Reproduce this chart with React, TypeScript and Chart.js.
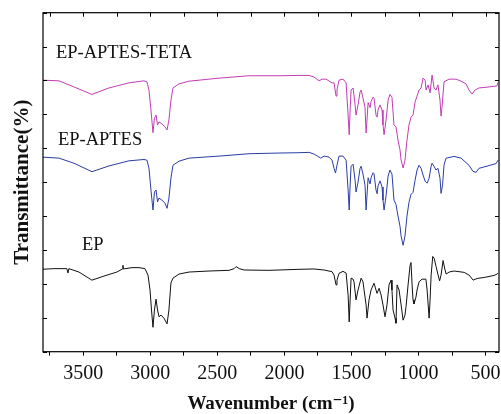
import React, { useEffect, useRef } from "react";
import { Chart, registerables } from "chart.js";

Chart.register(...registerables);

// ---- Data (wavenumber cm-1, transmittance %, stacked offsets as drawn) ----
const epWn = [3808, 3719, 3622, 3614, 3607, 3532, 3435, 3346, 3249, 3208, 3204, 3200, 3137, 3084, 3040, 3017, 3002, 2991, 2980, 2969, 2957, 2946, 2935, 2920, 2898, 2875, 2861, 2846, 2831, 2786, 2711, 2562, 2413, 2375, 2360, 2337, 2300, 2114, 1891, 1779, 1704, 1645, 1630, 1615, 1608, 1593, 1563, 1540, 1525, 1517, 1510, 1503, 1488, 1481, 1466, 1451, 1428, 1414, 1406, 1391, 1384, 1369, 1354, 1332, 1317, 1309, 1294, 1279, 1265, 1250, 1235, 1220, 1205, 1198, 1190, 1175, 1168, 1160, 1145, 1130, 1115, 1101, 1093, 1078, 1063, 1056, 1048, 1041, 1034, 1019, 1011, 996, 974, 945, 936, 921, 914, 906, 894, 884, 869, 854, 843, 832, 817, 806, 794, 772, 735, 660, 623, 593, 563, 511, 436, 414, 407];
const epT = [24.3, 24.5, 24.5, 23.2, 24.5, 23.5, 21.1, 22.3, 23.5, 24.4, 25.5, 24.4, 24.8, 24.8, 24.5, 22.6, 18.2, 12.3, 7.2, 12.3, 15.5, 12.3, 10.3, 10.8, 9.9, 8.2, 12.3, 20.3, 21.7, 22.9, 23.5, 23.8, 24.0, 24.5, 25.1, 24.5, 24.1, 24.0, 24.3, 24.4, 24.1, 23.6, 22.6, 19.7, 21.1, 23.1, 23.7, 23.2, 16.7, 8.8, 15.3, 21.7, 21.4, 20.6, 15.3, 18.2, 21.7, 20.6, 18.2, 13.8, 9.9, 15.3, 18.2, 20.2, 18.2, 17.2, 18.7, 16.7, 13.8, 10.3, 13.8, 19.7, 21.1, 18.2, 12.3, 9.9, 8.4, 19.7, 18.2, 13.8, 9.3, 10.8, 13.3, 19.7, 25.5, 26.3, 19.7, 15.3, 14.1, 16.1, 18.2, 20.6, 21.4, 21.4, 18.2, 9.9, 15.3, 22.6, 28.1, 27.6, 25.1, 22.6, 20.9, 22.6, 26.9, 24.7, 22.9, 23.5, 23.8, 23.4, 22.6, 21.1, 21.6, 21.9, 22.5, 22.9, 23.2];

const apWn = [3808, 3681, 3569, 3435, 3308, 3159, 3047, 3025, 3010, 2995, 2980, 2969, 2957, 2946, 2935, 2913, 2890, 2875, 2861, 2846, 2831, 2786, 2711, 2487, 2264, 2040, 1891, 1816, 1779, 1729, 1704, 1667, 1645, 1630, 1619, 1608, 1593, 1563, 1540, 1525, 1517, 1510, 1503, 1488, 1473, 1466, 1451, 1436, 1428, 1414, 1399, 1391, 1384, 1376, 1361, 1354, 1339, 1332, 1317, 1309, 1302, 1287, 1272, 1265, 1257, 1242, 1227, 1213, 1198, 1183, 1168, 1153, 1138, 1130, 1115, 1101, 1086, 1071, 1056, 1041, 1026, 1011, 996, 981, 966, 951, 936, 921, 906, 899, 884, 870, 855, 840, 832, 821, 810, 795, 735, 683, 624, 594, 571, 549, 474, 422, 407];
const apT = [57.4, 57.1, 55.6, 53.1, 54.8, 56.3, 56.7, 56.5, 54.2, 47.7, 41.8, 47.1, 47.7, 44.2, 45.3, 44.7, 43.8, 42.3, 45.3, 51.2, 55.0, 56.2, 57.1, 57.7, 58.4, 58.6, 58.7, 58.8, 58.3, 57.1, 57.7, 57.4, 56.5, 54.1, 52.7, 55.0, 57.7, 57.7, 56.5, 47.7, 41.8, 49.1, 54.7, 55.3, 50.6, 47.1, 50.0, 54.1, 54.7, 52.4, 49.1, 41.8, 46.2, 51.3, 49.5, 51.3, 52.8, 52.5, 47.7, 46.6, 48.9, 50.4, 48.6, 44.7, 41.8, 46.0, 51.8, 53.6, 52.4, 44.7, 43.5, 40.0, 37.0, 34.1, 31.4, 34.1, 40.0, 44.1, 46.4, 47.0, 50.5, 53.6, 55.0, 54.1, 52.1, 50.3, 49.7, 51.2, 54.7, 55.6, 54.7, 53.6, 54.1, 51.2, 46.7, 49.1, 55.0, 57.1, 57.6, 57.1, 55.0, 53.2, 52.9, 54.1, 54.9, 55.5, 56.5];

const atWn = [3808, 3681, 3569, 3435, 3308, 3159, 3047, 3025, 3010, 2995, 2980, 2969, 2957, 2946, 2935, 2913, 2890, 2875, 2861, 2846, 2831, 2786, 2711, 2487, 2264, 2040, 1891, 1816, 1779, 1741, 1719, 1689, 1645, 1630, 1615, 1608, 1593, 1563, 1540, 1525, 1517, 1510, 1503, 1488, 1473, 1466, 1451, 1436, 1428, 1414, 1399, 1391, 1384, 1376, 1361, 1354, 1339, 1332, 1317, 1309, 1302, 1287, 1272, 1265, 1257, 1242, 1227, 1213, 1198, 1183, 1168, 1153, 1138, 1130, 1115, 1101, 1086, 1071, 1056, 1041, 1026, 1011, 996, 981, 966, 951, 944, 929, 914, 899, 884, 870, 855, 840, 832, 825, 810, 773, 720, 683, 646, 624, 601, 579, 549, 474, 415, 407];
const atT = [80.1, 79.9, 78.1, 75.9, 77.8, 79.3, 79.9, 79.6, 77.2, 71.3, 64.6, 68.9, 69.8, 66.9, 67.8, 67.2, 66.3, 65.4, 68.4, 74.2, 77.8, 79.0, 79.8, 80.7, 81.4, 81.4, 81.5, 81.5, 81.0, 79.9, 80.4, 80.4, 79.3, 79.3, 75.4, 77.2, 80.1, 80.4, 79.3, 69.8, 64.0, 71.3, 77.2, 77.8, 72.8, 69.8, 72.8, 76.6, 77.2, 74.8, 72.0, 64.5, 68.4, 73.5, 72.0, 73.8, 75.1, 74.8, 69.8, 69.2, 71.3, 72.8, 71.3, 66.9, 64.0, 68.4, 74.2, 75.9, 75.0, 66.9, 66.3, 62.4, 59.5, 56.5, 54.2, 56.5, 62.4, 66.9, 69.2, 69.8, 73.6, 75.4, 77.2, 77.8, 80.7, 80.1, 77.2, 78.7, 76.4, 81.6, 77.8, 77.2, 78.7, 74.2, 69.5, 72.0, 79.6, 80.4, 80.4, 79.8, 79.0, 77.2, 76.0, 77.2, 77.8, 78.1, 78.4, 79.5];

const seriesNames = ["EP", "EP-APTES", "EP-APTES-TETA"];
const seriesColors = ["#111111", "#2b3da6", "#c23db5"];

const xTickValues = [3750, 3500, 3250, 3000, 2750, 2500, 2250, 2000, 1750, 1500, 1250, 1000, 750, 500];
const yTickValues = [0, 10, 20, 30, 40, 50, 60, 70, 80, 90, 100];

// label anchors (wavenumber, transmittance)
const labelWn = [3510, 3689, 3704];
const labelT = [31.5, 62.4, 88.1];

const SERIF = '"Liberation Serif", "Times New Roman", "DejaVu Serif", serif';

const framePlugin = {
  id: "frameAndLabels",
  afterDraw(chart: any) {
    const { ctx, chartArea } = chart;
    const { left, right, top, bottom } = chartArea;
    const xs = chart.scales.x;
    const ys = chart.scales.y;
    ctx.save();
    ctx.strokeStyle = "#000";
    ctx.lineWidth = 1.2;
    ctx.strokeRect(left, top, right - left, bottom - top);
    ctx.lineWidth = 1;
    ctx.beginPath();
    for (const v of yTickValues) {
      const py = Math.round(ys.getPixelForValue(v)) + 0.5;
      ctx.moveTo(left, py);
      ctx.lineTo(left + 4, py);
      ctx.moveTo(right, py);
      ctx.lineTo(right - 4, py);
    }
    for (const v of xTickValues) {
      const px = Math.round(xs.getPixelForValue(v)) + 0.5;
      ctx.moveTo(px, top);
      ctx.lineTo(px, top + 4);
    }
    ctx.stroke();
    ctx.fillStyle = "#111";
    ctx.font = `18.5px ${SERIF}`;
    ctx.textAlign = "left";
    ctx.textBaseline = "middle";
    for (let i = 0; i < seriesNames.length; i++) {
      ctx.fillText(seriesNames[i], xs.getPixelForValue(labelWn[i]), ys.getPixelForValue(labelT[i]));
    }
    ctx.restore();
  },
};

export default function App() {
  const ref = useRef<HTMLCanvasElement>(null);
  useEffect(() => {
    document.body.style.margin = "0";
    const toPts = (w: number[], t: number[]) => w.map((v, i) => ({ x: v, y: t[i] }));
    const data = [toPts(epWn, epT), toPts(apWn, apT), toPts(atWn, atT)];
    const chart = new Chart(ref.current!, {
      type: "line",
      data: {
        datasets: data.map((d, i) => ({
          label: seriesNames[i],
          data: d,
          borderColor: seriesColors[i],
          backgroundColor: seriesColors[i],
          borderWidth: 1,
          pointRadius: 0,
          tension: 0,
          fill: false,
        })),
      },
      options: {
        animation: false,
        responsive: false,
        devicePixelRatio: 1,
        layout: { padding: { left: 0, right: 2, top: 12.7, bottom: 0 } },
        plugins: { legend: { display: false }, tooltip: { enabled: false } },
        scales: {
          x: {
            type: "linear",
            reverse: true,
            min: 400,
            max: 3800,
            afterBuildTicks: (s: any) => {
              s.ticks = xTickValues.map((v) => ({ value: v }));
            },
            afterFit: (s: any) => {
              s.height = 62.3;
              s.paddingLeft = 0;
              s.paddingRight = 0;
            },
            grid: { display: true, drawOnChartArea: false, drawTicks: true, tickLength: 4, color: "#000" },
            border: { display: false },
            ticks: {
              color: "#111",
              font: { family: SERIF, size: 20 },
              padding: 6,
              maxRotation: 0,
              autoSkip: false,
              callback: (v: any) => (Number(v) % 500 === 0 ? String(v) : ""),
            },
            title: {
              display: true,
              text: "Wavenumber (cm\u207B\u00B9)",
              color: "#111",
              font: { family: SERIF, size: 19, weight: "bold", lineHeight: 1 },
              padding: { top: 0, bottom: 0 },
            },
          },
          y: {
            type: "linear",
            min: 0,
            max: 100,
            afterFit: (s: any) => {
              s.width = 43;
              s.paddingTop = 0;
              s.paddingBottom = 0;
            },
            grid: { display: false },
            border: { display: false },
            ticks: { display: false },
            title: {
              display: true,
              text: "Transmittance(%)",
              color: "#111",
              font: { family: SERIF, size: 21, weight: "bold", lineHeight: 1.2 },
              padding: { top: 10, bottom: 0 },
            },
          },
        },
      },
      plugins: [framePlugin],
    });
    return () => chart.destroy();
  }, []);
  return (
    <div style={{ width: 501, height: 414 }}>
      <canvas ref={ref} width={501} height={414} />
    </div>
  );
}
